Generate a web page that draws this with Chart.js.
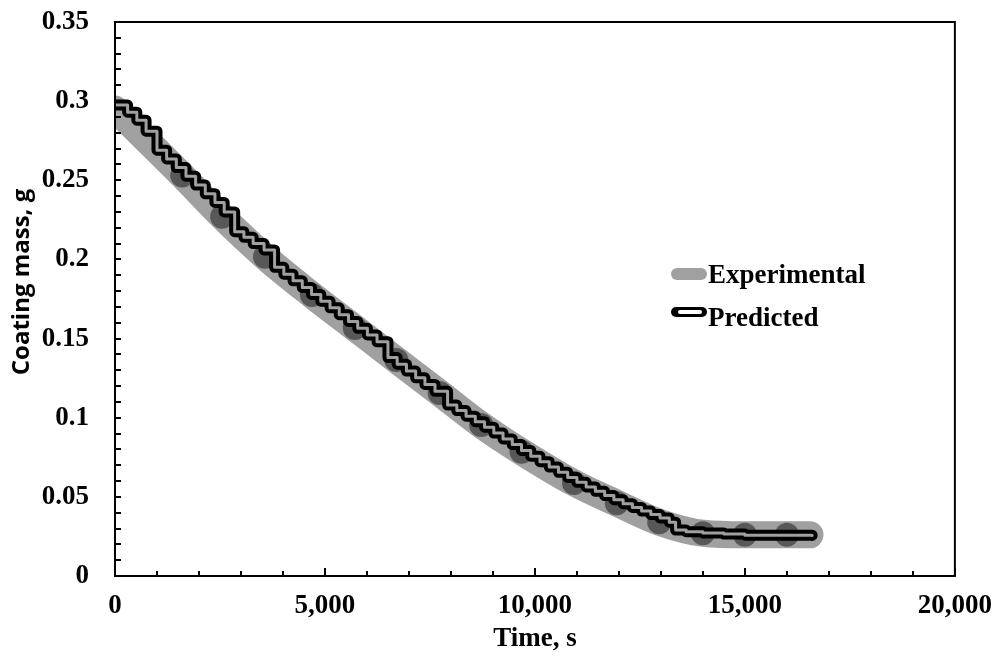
<!DOCTYPE html>
<html>
<head>
<meta charset="utf-8">
<script src="https://cdn.jsdelivr.net/npm/chart.js@4.4.1/dist/chart.umd.min.js"></script>
<style>
  html, body { margin: 0; padding: 0; background: #fff; }
  #wrap { width: 1006px; height: 659px; }
</style>
</head>
<body>
<div id="wrap"><canvas id="chart"></canvas></div>
<script>
// experimental measurements (time in s, coating mass in g)
const expTime = [0, 1600, 2550, 3570, 4690, 5710, 6700, 7730, 8720, 9680, 10930, 11950, 12960, 14000, 15000, 16000, 16550];
const expMass = [0.295, 0.253, 0.227, 0.2017, 0.1775, 0.1567, 0.1365, 0.1156, 0.0954, 0.0785, 0.0588, 0.046, 0.034, 0.027, 0.026, 0.026, 0.026];

// model prediction (stepped output)
const predTime = [0, 300, 520, 740, 1000, 1230, 1460, 1690, 1920, 2150, 2380, 2600, 2850, 3070, 3290, 3550,
  3800, 4020, 4240, 4460, 4680, 4900, 5120, 5340, 5560, 5780, 6010, 6240, 6500, 6720, 6940, 7160, 7380, 7620,
  7920, 8140, 8360, 8580, 8800, 9020, 9240, 9460, 9680, 9900, 10120, 10340, 10560, 10780, 11000, 11220, 11440,
  11660, 11880, 12100, 12320, 12540, 12760, 12980, 13200, 13350, 13600, 14000, 14500, 15000, 16600];
const predMass = [0.2975, 0.2930, 0.2880, 0.2810, 0.2690, 0.2635, 0.2580, 0.2525, 0.2470, 0.2415, 0.2360, 0.2300, 0.2175, 0.2140, 0.2100, 0.2060,
  0.1950, 0.1907, 0.1865, 0.1822, 0.1779, 0.1736, 0.1694, 0.1651, 0.1608, 0.1565, 0.1523, 0.1480, 0.1380, 0.1338, 0.1295, 0.1252, 0.1210, 0.1167,
  0.1080, 0.1045, 0.1010, 0.0975, 0.0940, 0.0903, 0.0866, 0.0830, 0.0793, 0.0757, 0.0722, 0.0688, 0.0655, 0.0623, 0.0592, 0.0563, 0.0535,
  0.0508, 0.0482, 0.0457, 0.0433, 0.0410, 0.0388, 0.0367, 0.0340, 0.0290, 0.0280, 0.0272, 0.0265, 0.0258, 0.0256];

const xTicks = [0, 5000, 10000, 15000, 20000];
const yTicks = [0, 0.05, 0.1, 0.15, 0.2, 0.25, 0.3, 0.35];
const yTitle = 'Coating mass, g';

const GRAY = '#a0a0a0';
const serif = '"Liberation Serif", "Times New Roman", serif';

const toXY = (xs, ys) => xs.map((t, i) => ({ x: t, y: ys[i] }));

// box round the plot, inward tick marks, y title
const frame = {
  id: 'frame',
  afterDatasetsDraw(chart) {
    const { ctx, chartArea: a, scales: { x, y } } = chart;
    ctx.save();
    ctx.strokeStyle = '#000';
    ctx.lineWidth = 2;
    ctx.strokeRect(a.left, a.top, a.right - a.left, a.bottom - a.top);
    ctx.beginPath();
    for (let v = 0; v <= 35; v++) {
      const py = Math.round(y.getPixelForValue(v / 100));
      ctx.moveTo(a.left, py);
      ctx.lineTo(a.left + 6, py);
    }
    for (let v = 0; v <= 20; v++) {
      const px = Math.round(x.getPixelForValue(v * 1000));
      ctx.moveTo(px, a.bottom);
      ctx.lineTo(px, a.bottom - (v % 5 === 0 ? 8 : 5));
    }
    ctx.stroke();

    ctx.translate(22, 282);
    ctx.rotate(-Math.PI / 2);
    ctx.fillStyle = '#000';
    ctx.font = 'bold 24px "Open Sans", sans-serif';
    ctx.textAlign = 'center';
    ctx.textBaseline = 'middle';
    ctx.fillText(yTitle, 0, 0);
    ctx.restore();
  }
};

// legend inside the plot, right of centre
const legendBox = {
  id: 'legendBox',
  afterDraw(chart) {
    const ctx = chart.ctx;
    const ds = chart.data.datasets;
    ctx.save();
    ctx.lineCap = 'round';
    ctx.strokeStyle = GRAY;
    ctx.lineWidth = 12;
    ctx.beginPath(); ctx.moveTo(677, 274); ctx.lineTo(701, 274); ctx.stroke();
    ctx.strokeStyle = '#000';
    ctx.lineWidth = 10;
    ctx.beginPath(); ctx.moveTo(676, 312); ctx.lineTo(702, 312); ctx.stroke();
    ctx.strokeStyle = '#fff';
    ctx.lineWidth = 4;
    ctx.beginPath(); ctx.moveTo(680, 312); ctx.lineTo(700, 312); ctx.stroke();
    ctx.fillStyle = '#000';
    ctx.font = 'bold 27px ' + serif;
    ctx.textBaseline = 'alphabetic';
    ctx.fillText(ds[0].label, 708, 283);
    ctx.fillText(ds[1].label, 708, 326);
    ctx.restore();
  }
};

new Chart(document.getElementById('chart'), {
  type: 'line',
  data: {
    datasets: [
      {
        label: 'Experimental',
        data: toXY(expTime, expMass),
        borderColor: GRAY,
        borderWidth: 27,
        borderCapStyle: 'round',
        borderJoinStyle: 'round',
        cubicInterpolationMode: 'monotone',
        pointRadius: (c) => (c.dataIndex === 0 || c.dataIndex === expTime.length - 1) ? 0 : 12,
        pointBackgroundColor: 'rgba(40,40,40,0.6)',
        pointBorderWidth: 0,
        clip: 0,
        order: 3
      },
      {
        label: 'Predicted',
        data: toXY(predTime, predMass),
        borderColor: '#000',
        borderWidth: 11,
        borderCapStyle: 'round',
        borderJoinStyle: 'round',
        stepped: true,
        pointRadius: 0,
        clip: 0,
        order: 2
      },
      {
        label: 'Predicted (inner)',
        data: toXY(predTime, predMass),
        borderColor: GRAY,
        borderWidth: 3,
        borderCapStyle: 'round',
        borderJoinStyle: 'round',
        stepped: true,
        pointRadius: 0,
        clip: 0,
        order: 1
      }
    ]
  },
  options: {
    responsive: true,
    maintainAspectRatio: false,
    animation: false,
    devicePixelRatio: 1,
    layout: { padding: { top: 22, right: 49, left: 0, bottom: 0 } },
    plugins: {
      legend: { display: false },
      tooltip: { enabled: false }
    },
    scales: {
      x: {
        type: 'linear',
        min: 0,
        max: 20000,
        afterBuildTicks: (s) => { s.ticks = xTicks.map(v => ({ value: v })); },
        afterFit: (s) => { s.height = 83; },
        grid: { display: false, drawTicks: false },
        border: { display: false },
        ticks: {
          padding: 14,
          color: '#000',
          font: { family: serif, size: 27, weight: 'bold' },
          maxRotation: 0,
          callback: (v) => v.toLocaleString('en-US')
        },
        title: {
          display: true,
          text: 'Time, s',
          color: '#000',
          font: { family: serif, size: 27, weight: 'bold' },
          padding: { top: 0, bottom: 4 }
        }
      },
      y: {
        min: 0,
        max: 0.35,
        afterBuildTicks: (s) => { s.ticks = yTicks.map(v => ({ value: v })); },
        afterFit: (s) => { s.width = 115; s.paddingTop = 0; s.paddingBottom = 0; },
        grid: { display: false, drawTicks: false },
        border: { display: false },
        ticks: {
          padding: 26,
          color: '#000',
          font: { family: serif, size: 27, weight: 'bold' },
          callback: (v) => String(parseFloat(v.toFixed(2)))
        }
      }
    }
  },
  plugins: [frame, legendBox]
});
</script>
</body>
</html>
